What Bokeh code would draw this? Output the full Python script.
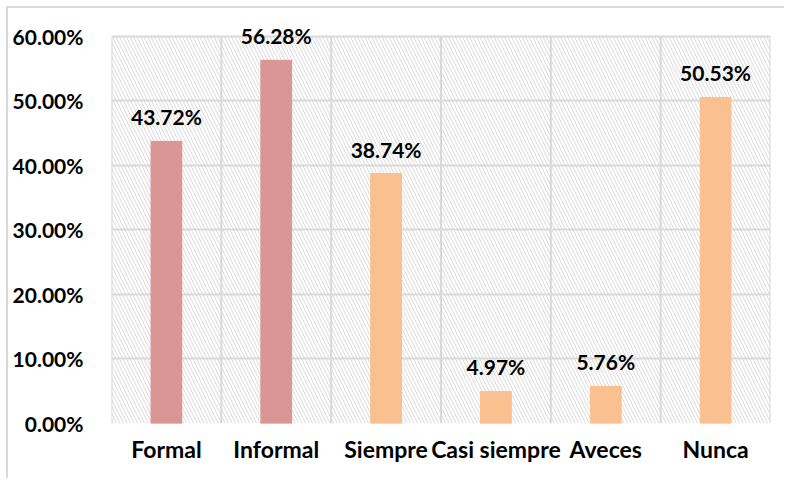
from bokeh.plotting import figure
from bokeh.models import ColumnDataSource, FixedTicker, PrintfTickFormatter, Range1d, LabelSet
from bokeh.core.properties import value
from bokeh.embed import file_html
from bokeh.resources import INLINE

categories = ["Formal", "Informal", "Siempre", "Casi siempre", "Aveces", "Nunca"]
values = [43.72, 56.28, 38.74, 4.97, 5.76, 50.53]
colors = ["#D99694", "#D99694", "#FAC090", "#FAC090", "#FAC090", "#FAC090"]
labels = ["43.72%", "56.28%", "38.74%", "4.97%", "5.76%", "50.53%"]
y_ticks = [0, 10, 20, 30, 40, 50, 60]
y_max = 60

FONT = "Lato"
GRID = "#D9D9D9"
n = len(categories)

xs = [i + 0.5 for i in range(n)]
src = ColumnDataSource(dict(x=xs, top=values, color=colors, label=labels))

p = figure(width=778, height=472, output_backend="svg", toolbar_location=None,
           x_range=Range1d(0, n), y_range=Range1d(0, 64),
           min_border_left=103, min_border_top=2, min_border_right=16, min_border_bottom=57)
p.outline_line_color = None
p.styles = {"transform": "translate(6px, 6px)", "border-left": "2px solid #D9D9D9",
            "border-top": "2px solid #D9D9D9", "box-sizing": "border-box"}

# hatched plot background
p.quad(left=[0], right=[n], bottom=[0], top=[y_max], fill_color="white",
       line_color=None, hatch_pattern="left_diagonal_line", hatch_color=GRID,
       hatch_scale=7, hatch_weight=1, level="underlay")

# category separators and frame sides
seps = list(range(n + 1))
p.segment(x0=seps, x1=seps, y0=[0] * len(seps), y1=[y_max] * len(seps),
          line_color=GRID, line_width=2, level="underlay")

p.vbar(x="x", top="top", width=0.28, color="color", source=src)

p.add_layout(LabelSet(x="x", y="top", text="label", source=src, text_align="center",
                      text_baseline="bottom", y_offset=12, text_font=value(FONT),
                      text_font_style="bold", text_font_size="21px", text_color="#000000"))

p.xgrid.visible = False
p.ygrid.ticker = FixedTicker(ticks=y_ticks)
p.ygrid.grid_line_color = GRID
p.ygrid.grid_line_width = 2

p.xaxis.ticker = FixedTicker(ticks=xs)
p.xaxis.major_label_overrides = {x: c for x, c in zip(xs, categories)}
p.yaxis.ticker = FixedTicker(ticks=y_ticks)
p.yaxis.formatter = PrintfTickFormatter(format="%.2f%%")
for ax in (p.xaxis, p.yaxis):
    ax.axis_line_color = None
    ax.major_tick_line_color = None
    ax.minor_tick_line_color = None
    ax.major_label_text_font = FONT
    ax.major_label_text_font_style = "bold"
    ax.major_label_text_color = "#000000"
p.yaxis.major_label_text_font_size = "21px"
p.xaxis.major_label_text_font_size = "23px"
p.xaxis.major_label_standoff = 5
p.yaxis.major_label_standoff = 22

open("out.html", "w").write(file_html(p, INLINE))
